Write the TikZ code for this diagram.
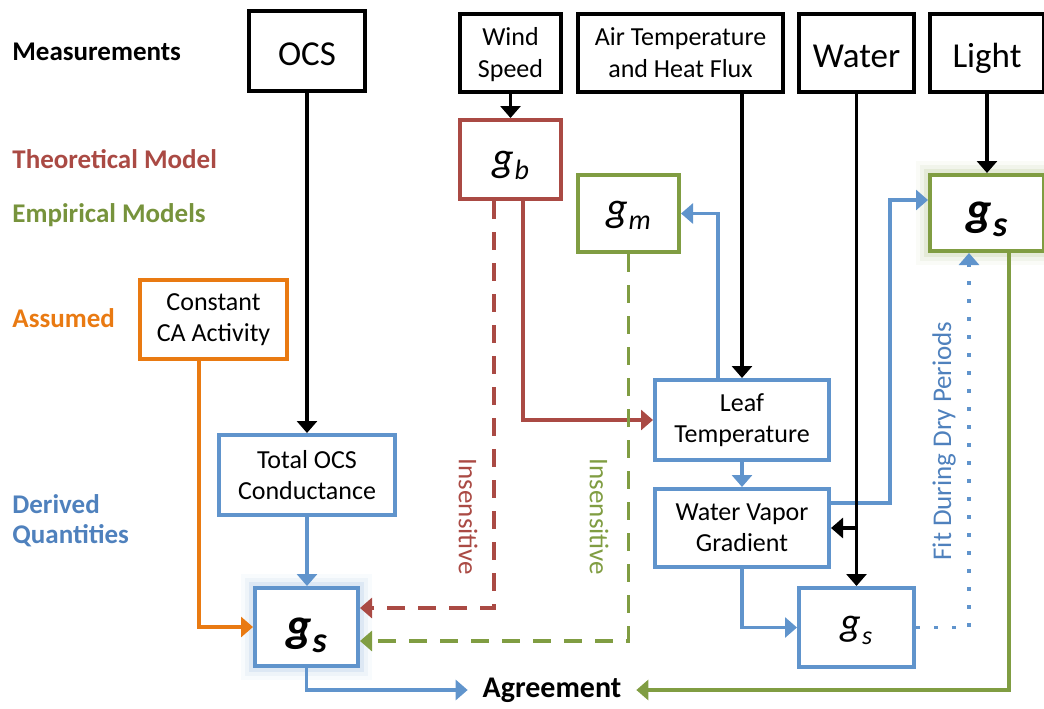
\documentclass[tikz,border=0pt]{standalone}
\usepackage{fontspec}
\setmainfont{Carlito}
\usetikzlibrary{arrows.meta}
\definecolor{lblue}{RGB}{96,148,204}
\definecolor{tblue}{RGB}{79,129,189}
\definecolor{cred}{RGB}{170,74,68}
\definecolor{cgreen}{RGB}{128,157,66}
\definecolor{tgreen}{RGB}{119,147,60}
\definecolor{corange}{RGB}{233,122,18}
\newcommand{\fs}[2]{\fontsize{#1}{#2}\selectfont}
\newcommand{\gvar}[4]{{\fs{#1}{#1}\itshape g}\kern0.5pt\raisebox{-#4}{\fs{#2}{#2}\itshape #3}}
\begin{document}
\begin{tikzpicture}[x=0.5pt,y=-0.5pt,
  >={Triangle[width=10pt,length=6pt]},
  box/.style={line width=2pt, fill=white, inner sep=0pt, align=center, font=\fs{13}{15.5}},
  kbox/.style={box, draw=black},
  bigtext/.style={font=\fs{17.5}{20}, text height=16pt, text depth=2pt},
  sz/.style 2 args={minimum width=#1*0.5pt, minimum height=#2*0.5pt},
  conn/.style={line width=1.75pt},
  dsh/.style={conn, dash pattern=on 9pt off 6.5pt},
  dotln/.style={conn, dash pattern=on 2pt off 7pt},
  lab/.style={anchor=base west, inner sep=0pt, font=\bfseries\fs{13.5}{15}},
  rot/.style={font=\fs{13.5}{15}},
  bglow/.style={preaction={draw=lblue!70, line width=14pt, opacity=0.06}, preaction={draw=lblue!70, line width=10pt, opacity=0.1}, preaction={draw=lblue!70, line width=6pt, opacity=0.18}},
  gglow/.style={preaction={draw=cgreen!70, line width=14pt, opacity=0.06}, preaction={draw=cgreen!70, line width=10pt, opacity=0.1}, preaction={draw=cgreen!70, line width=6pt, opacity=0.18}},
]
\useasboundingbox (0,0) rectangle (1044,708);
\clip (0,0) rectangle (1044,708);

% left labels
\node[lab] (lmeas) at (12,60) {Measurements};
\node[lab, text=cred] (ltheo) at (12,168) {Theoretical Model};
\node[lab, text=tgreen] (lemp) at (12,222) {Empirical Models};
\node[lab, text=corange] (lass) at (12,327) {Assumed};
\node[lab, text=tblue, anchor=west, align=left] (lder) at (12,521) {Derived\\Quantities};

% boxes
\node[kbox, sz={116}{80}, bigtext] (ocs) at (307,51) {OCS};
\node[kbox, sz={101}{78}, font=\fs{13}{16}, text height=27.5pt, text depth=2.6pt] (wind) at (510.5,53) {Wind\\Speed};
\node[kbox, sz={205}{78}, font=\fs{13}{16}] (air) at (680.5,53) {Air Temperature\\and Heat Flux};
\node[kbox, sz={115}{78}, bigtext] (water) at (856.5,53) {Water};
\node[kbox, sz={114}{78}, bigtext] (light) at (987,53) {Light};
\node[box, draw=cred, sz={101}{79}, text height=16pt, text depth=4.2pt] (gb) at (510.5,159.5) {\gvar{21}{14}{b}{4pt}};
\node[box, draw=cgreen, sz={101}{77}, text height=12.5pt, text depth=4.2pt] (gm) at (628.5,213.5) {\gvar{21}{14}{m}{4pt}};
\node[box, draw=cgreen, sz={114}{76}, text height=16pt, text depth=4pt, gglow, font=\bfseries] (gsg) at (987,213) {\gvar{24}{18}{s}{5.5pt}};
\node[box, draw=corange, sz={147}{79}] (ca) at (213.5,319.5) {Constant\\CA Activity};
\node[box, draw=lblue, sz={176}{80}] (tot) at (307,475) {Total OCS\\Conductance};
\node[box, draw=lblue, sz={103}{78}, text height=18pt, text depth=4pt, bglow, font=\bfseries] (gsb) at (306.5,627) {\gvar{24}{18}{s}{5.5pt}};
\node[box, draw=lblue, sz={174}{80}] (leaf) at (742,420) {Leaf\\Temperature};
\node[box, draw=lblue, sz={174}{78}] (wvg) at (742,528) {Water Vapor\\Gradient};
\node[box, draw=lblue, sz={115}{79}, text height=12pt, text depth=4.4pt] (gss) at (856.5,627.5) {\gvar{20}{13}{s}{4.5pt}};
\node[font=\bfseries\fs{15}{16}, inner xsep=7.5pt, inner ysep=0pt, outer sep=0pt] (agr) at (552,690) {Agreement};

% rotated labels
\node[rot, text=cred, rotate=-90] (ins1) at (468,517) {Insensitive};
\node[rot, text=cgreen, rotate=-90] (ins2) at (599,517) {Insensitive};
\node[font=\fs{13.5}{15}, text=tblue, rotate=90] (fit) at (944,441) {Fit During Dry Periods};

% connectors
\draw[conn,cred,->] ([xshift=6.25pt]gb.south) |- (leaf.west);
\draw[dsh,cred,->] ([xshift=-8.25pt]gb.south) |- ([yshift=9.5pt]gsb.east);
\draw[dsh,cgreen,->] (gm.south) |- ([yshift=-7pt]gsb.east);
\draw[conn,lblue,->] ([xshift=-12pt]leaf.north) |- (gm.east);
\draw[conn,lblue,->] (leaf) -- (wvg);
\draw[conn,lblue,->] (wvg.south) |- (gss.west);
\draw[conn,lblue,->] ([yshift=12.5pt]wvg.east) -| ([xshift=-19pt,yshift=6.5pt]gsg.west) -- ([yshift=6.5pt]gsg.west);
\draw[dotln,lblue,->] (gss.east) -| ([xshift=-9pt]gsg.south);
\draw[conn,cgreen,->] ([xshift=11pt]gsg.south) |- (agr.east);
\draw[conn,lblue,->] (tot.south) -- (tot.south |- gsb.north);
\draw[conn,corange,->] ([xshift=-7.25pt]ca.south) |- (gsb.west);
\draw[conn,lblue,->] (gsb.south) |- (agr.west);
\draw[conn,->] (ocs) -- (tot);
\draw[conn,->] (wind) -- (gb);
\draw[conn,->] (air.south -| leaf.north) -- (leaf.north);
\draw[conn,->] (water) -- (gss);
\draw[conn,->] (water.south |- wvg.east) -- (wvg.east);
\draw[conn,->] (light) -- (gsg);
\end{tikzpicture}
\end{document}
